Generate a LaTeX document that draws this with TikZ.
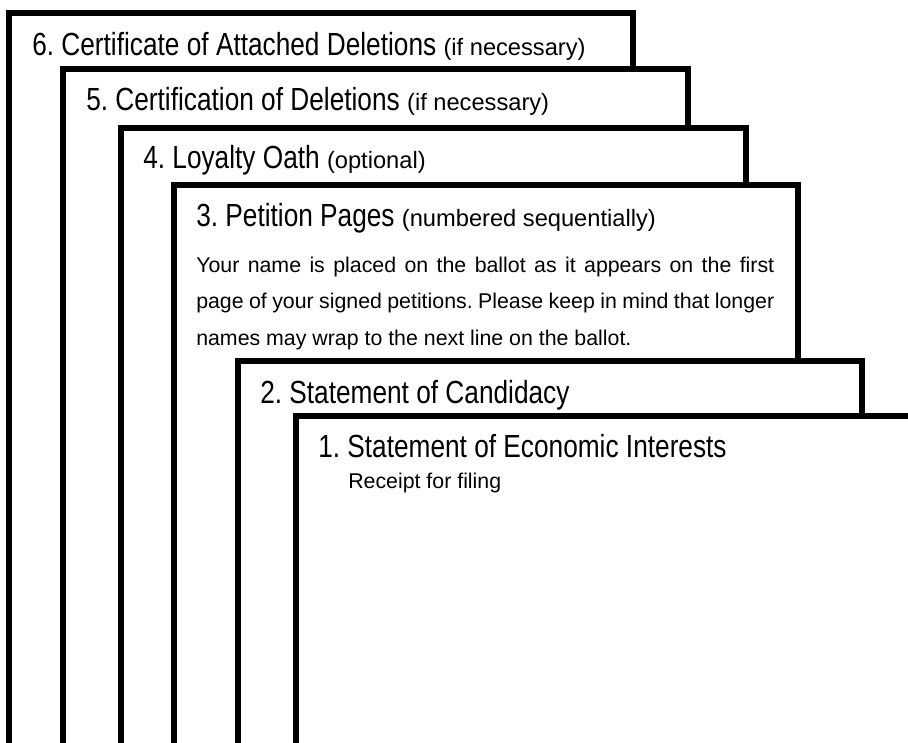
\documentclass[tikz,border=0pt]{standalone}
\usepackage{fontspec}
\setmainfont{Liberation Sans}
\newfontfamily\narrowfont[FakeStretch=0.82]{Liberation Sans}
\newcommand{\parenote}[1]{{\rmfamily\fontsize{17.75}{20}\selectfont (#1)}}
\frenchspacing

\begin{document}
\begin{tikzpicture}[
    x=0.75pt,
    y=-0.75pt,
    page box/.style={draw=black,fill=white,line width=4.5pt},
    title node/.style={anchor=base west,inner sep=0pt,font=\narrowfont\fontsize{24}{28}\selectfont},
    plain node/.style={anchor=base west,inner sep=0pt,font=\fontsize{16}{20}\selectfont},
    body node/.style={anchor=north west,inner sep=0pt,text width=433.5pt,align=justify,font=\fontsize{16}{27.4}\selectfont}
]
\useasboundingbox (0,0) rectangle (908,743);
\clip (0,0) rectangle (908,743);

% Page 6
\draw[page box] (9,13) rectangle (633,780);
\node[title node] (title6) at (32,55) {6. Certificate of Attached Deletions \parenote{if necessary}};

% Page 5
\draw[page box] (63,69) rectangle (688,780);
\node[title node] (title5) at (86,110) {5. Certification of Deletions \parenote{if necessary}};

% Page 4
\draw[page box] (121,128) rectangle (745.5,780);
\node[title node] (title4) at (143,168) {4. Loyalty Oath \parenote{optional}};

% Page 3
\draw[page box] (174,185) rectangle (798,780);
\node[title node] (title3) at (196,226) {3. Petition Pages \parenote{numbered sequentially}};
\node[body node] (body3) at (196,256.5) {Your name is placed on the ballot as it appears on the first\linebreak
page of your signed petitions. Please keep in mind that longer\linebreak
names may wrap to the next line on the ballot.};

% Page 2
\draw[page box] (238,361) rectangle (862,780);
\node[title node] (title2) at (260,403) {2. Statement of Candidacy};

% Page 1
\draw[page box] (296,415.5) rectangle (950,780);
\node[title node] (title1) at (318,457) {1. Statement of Economic Interests};
\node[plain node] (receipt1) at (348,488) {Receipt for filing};

\end{tikzpicture}
\end{document}
